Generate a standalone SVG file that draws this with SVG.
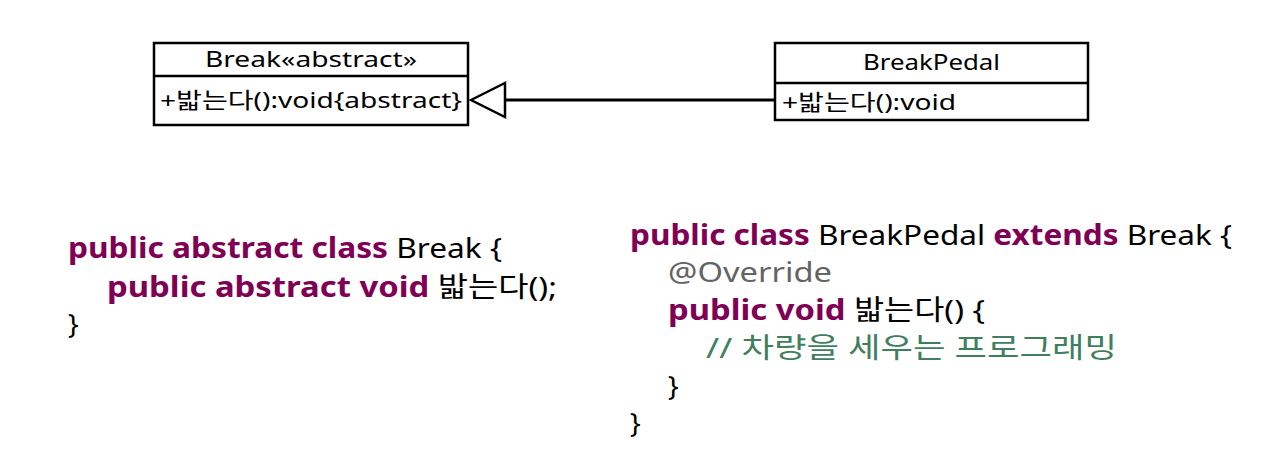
<svg xmlns="http://www.w3.org/2000/svg" width="1280" height="466" viewBox="0 0 1280 466">
<style>
text{font-family:"Noto Sans","Noto Sans CJK KR",sans-serif;fill:#000}
.box{fill:#fff;stroke:#000;stroke-width:2.5}
.uml{font-size:22px}
.code{font-size:28px}
.kw{fill:#7f0055;font-weight:bold}
.ann{fill:#646464}
.cmt{fill:#3f7f5f}
</style>
<rect width="1280" height="466" fill="#fff"/>
<g id="connectors">
<line x1="505" y1="100" x2="775" y2="100" stroke="#000" stroke-width="3"/>
<polygon points="471,100 505,83 505,117" fill="#fff" stroke="#000" stroke-width="2.5"/>
</g>
<g id="Break">
<rect class="box" x="154" y="43" width="314" height="82"/>
<line x1="154" y1="76" x2="468" y2="76" stroke="#000" stroke-width="2.5"/>
<text class="uml" x="205" y="67" textLength="212" lengthAdjust="spacingAndGlyphs">Break«abstract»</text>
<text class="uml" x="160" y="108" textLength="302" lengthAdjust="spacingAndGlyphs">+밟는다():void{abstract}</text>
</g>
<g id="BreakPedal">
<rect class="box" x="775" y="43" width="313" height="77"/>
<line x1="775" y1="83" x2="1088" y2="83" stroke="#000" stroke-width="2.5"/>
<text class="uml" x="863" y="70" textLength="137" lengthAdjust="spacingAndGlyphs">BreakPedal</text>
<text class="uml" x="782" y="110" textLength="174" lengthAdjust="spacingAndGlyphs">+밟는다():void</text>
</g>
<g id="code-break">
<text class="code" x="68" y="258" textLength="434" lengthAdjust="spacingAndGlyphs"><tspan class="kw">public abstract class</tspan> Break {</text>
<text class="code" x="107" y="297" textLength="450" lengthAdjust="spacingAndGlyphs"><tspan class="kw">public abstract void</tspan> 밟는다();</text>
<text class="code" x="68" y="334">}</text>
</g>
<g id="code-breakpedal">
<text class="code" x="630" y="245" textLength="602" lengthAdjust="spacingAndGlyphs"><tspan class="kw">public class</tspan> BreakPedal <tspan class="kw">extends</tspan> Break {</text>
<text class="code ann" x="668" y="282" textLength="164" lengthAdjust="spacingAndGlyphs">@Override</text>
<text class="code" x="668" y="320" textLength="317" lengthAdjust="spacingAndGlyphs"><tspan class="kw">public void</tspan> 밟는다() {</text>
<text class="code cmt" x="706" y="358" textLength="411" lengthAdjust="spacingAndGlyphs">// 차량을 세우는 프로그래밍</text>
<text class="code" x="668" y="396">}</text>
<text class="code" x="630" y="433">}</text>
</g>
</svg>
